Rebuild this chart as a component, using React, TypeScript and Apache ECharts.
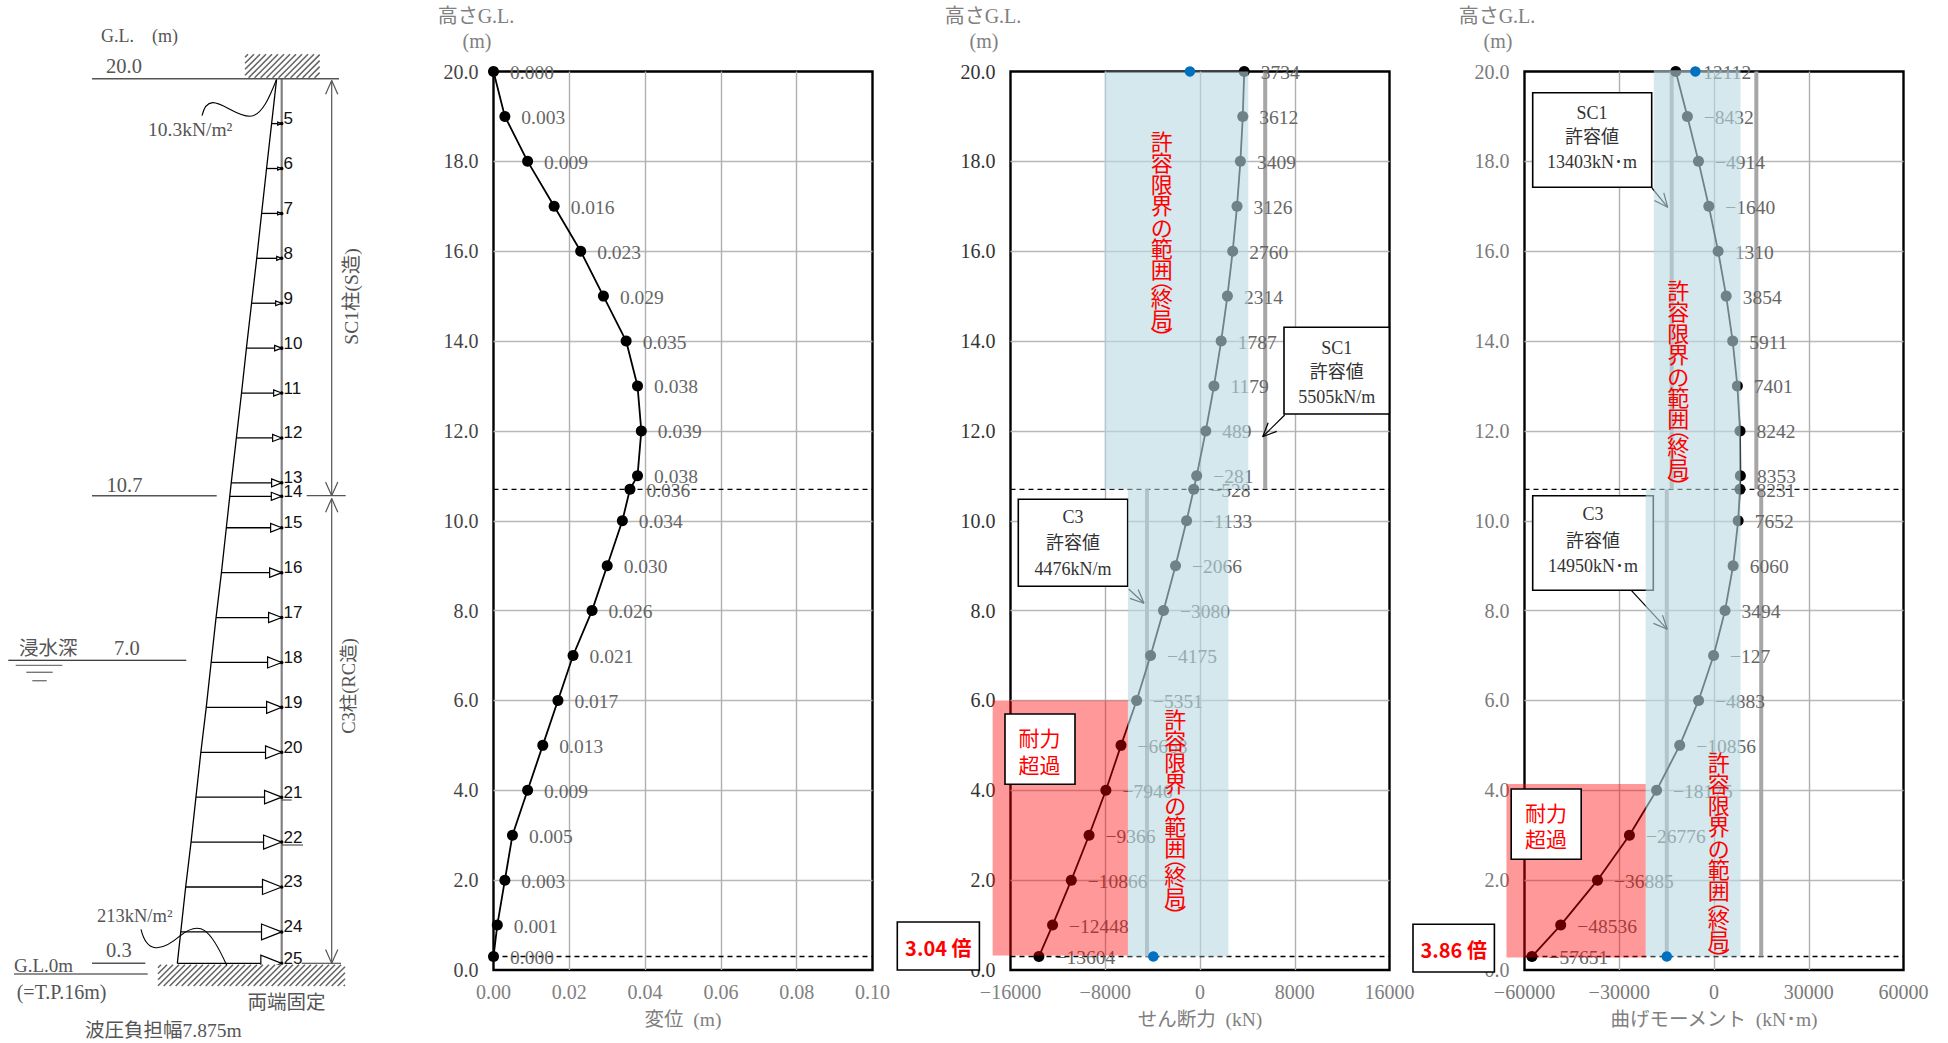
import React, { useEffect, useRef } from "react";
import * as echarts from "echarts";

const SERIF = "'Liberation Serif','Noto Sans CJK JP',serif";
const RED_TEXT = "'Noto Sans CJK JP',sans-serif";

// ---- data ----
const heights = [20, 19, 18, 17, 16, 15, 14, 13, 12, 11, 10.7, 10, 9, 8, 7, 6, 5, 4, 3, 2, 1, 0.3];
const displacement = [0, 0.003, 0.009, 0.016, 0.023, 0.029, 0.035, 0.038, 0.039, 0.038, 0.036, 0.034, 0.03, 0.026, 0.021, 0.017, 0.013, 0.009, 0.005, 0.003, 0.001, 0];
const shear = [3734, 3612, 3409, 3126, 2760, 2314, 1787, 1179, 489, -281, -528, -1133, -2066, -3080, -4175, -5351, -6668, -7946, -9366, -10866, -12448, -13604];
const moment = [-12112, -8432, -4914, -1640, 1310, 3854, 5911, 7401, 8242, 8353, 8231, 7652, 6060, 3494, -127, -4883, -10856, -18175, -26776, -36885, -48536, -57651];

const nodeNumbers = [5, 6, 7, 8, 9, 10, 11, 12, 13, 14, 15, 16, 17, 18, 19, 20, 21, 22, 23, 24, 25];
const nodeHeights = [19, 18, 17, 16, 15, 14, 13, 12, 11, 10.7, 10, 9, 8, 7, 6, 5, 4, 3, 2, 1, 0.3];
const nodePressures = [20.6, 30.9, 41, 51, 61.5, 72, 82, 92.5, 103, 106, 113, 123, 134, 144, 154, 165, 175, 185, 196, 206, 213];

const shearBlueMarks = [[-850, 20], [-3940, 0.3]];
const momentBlueMarks = [[-5900, 20], [-14950, 0.3]];
const shearLimits = [[5505, 20, 10.7], [-4476, 10.7, 0.3]];
const momentLimits = [[-13403, 20, 10.7], [13403, 20, 10.7], [-14950, 10.7, 0.3], [14950, 10.7, 0.3]];
const shearBlue = [[-8055, 4080, 10.7, 20], [-6086, 2400, 0.3, 10.7]];
const shearRed = [[-17506, -6086, 0.32, 6]];
const momentBlue = [[-19063, 8391, 10.7, 20.03], [-21630, 8391, 0.3, 10.7]];
const momentRed = [[-65700, -21630, 0.28, 4.14]];

const minusFmt = (s: string) => s.replace("-", "\u2212");

// ---- panel helpers ----
const PX = { top: 71.5, height: 898.5, width: 379 };
const panels = [
  { left: 493.5, xMin: 0, xMax: 0.1, step: 0.02, name: "変位\u2002(m)", yColor: "#444", xColor: "#808080", decimals: 2 },
  { left: 1010.5, xMin: -16000, xMax: 16000, step: 8000, name: "せん断力\u2002(kN)", yColor: "#333", xColor: "#808080", decimals: 0 },
  { left: 1524.5, xMin: -60000, xMax: 60000, step: 30000, name: "曲げモーメント\u2002(kN･m)", yColor: "#7a7a7a", xColor: "#7a7a7a", decimals: 0 },
];

function rectSeries(g: number, data: number[][], color: string) {
  return {
    type: "custom",
    xAxisIndex: g,
    yAxisIndex: g,
    z: 10,
    silent: true,
    encode: { x: [0, 1], y: [2, 3] },
    data,
    renderItem: (_p: any, api: any) => {
      const a = api.coord([api.value(0), api.value(3)]);
      const b = api.coord([api.value(1), api.value(2)]);
      return { type: "rect", shape: { x: a[0], y: a[1], width: b[0] - a[0], height: b[1] - a[1] }, style: { fill: color } };
    },
  };
}

function profileSeries(g: number, values: number[], labels: string[]) {
  return {
    type: "line",
    xAxisIndex: g,
    yAxisIndex: g,
    z: 4,
    symbol: "circle",
    symbolSize: 11,
    lineStyle: { color: "#000", width: 1.8 },
    itemStyle: { color: "#000" },
    label: {
      show: true,
      position: "right",
      distance: 11,
      offset: [0, 1],
      fontFamily: SERIF,
      fontSize: 19.5,
      color: "#666",
      formatter: (p: any) => labels[p.dataIndex],
    },
    data: values.map((v, i) => [v, heights[i]]),
  };
}

function levelSeries(g: number, xMin: number, xMax: number, level: number, text: string, dy: number) {
  return {
    type: "line",
    xAxisIndex: g,
    yAxisIndex: g,
    z: 3,
    symbol: "none",
    lineStyle: { color: "#000", width: 1.3, type: [5, 4] },
    data: [
      {
        value: [xMin, level],
        label: {
          show: true,
          position: "left",
          distance: 14,
          offset: [0, dy],
          formatter: text,
          fontFamily: SERIF,
          fontSize: 20,
          color: panels[g].yColor,
        },
      },
      { value: [xMax, level] },
    ],
  };
}

function limitSeries(g: number, list: number[][]) {
  return list.map((l) => ({
    type: "line",
    xAxisIndex: g,
    yAxisIndex: g,
    z: 3,
    symbol: "none",
    lineStyle: { color: "#a6a6a6", width: 4 },
    data: [[l[0], l[1]], [l[0], l[2]]],
  }));
}

function blueDots(g: number, data: number[][]) {
  return {
    type: "scatter",
    xAxisIndex: g,
    yAxisIndex: g,
    z: 20,
    symbolSize: 10.5,
    itemStyle: { color: "#0070c0", opacity: 1 },
    data,
  };
}

// ---- drawing helpers ----
function txt(text: string, x: number, y: number, o: any = {}) {
  return {
    type: "text",
    x,
    y,
    z: o.z ?? 30,
    silent: true,
    style: {
      text,
      fill: o.fill ?? "#555",
      font: o.font ?? `18px ${SERIF}`,
      textAlign: o.align ?? "left",
      textVerticalAlign: "middle",
      verticalAlign: "middle",
    },
    rotation: o.rotation ?? 0,
  };
}
function seg(x1: number, y1: number, x2: number, y2: number, stroke = "#555", w = 1.2, z = 30) {
  return { type: "line", z, silent: true, shape: { x1, y1, x2, y2 }, style: { stroke, lineWidth: w } };
}
function box(x1: number, y1: number, x2: number, y2: number, z = 30) {
  return { type: "rect", z, silent: true, shape: { x: x1, y: y1, width: x2 - x1, height: y2 - y1 }, style: { fill: "#fff", stroke: "#000", lineWidth: 1.6 } };
}
function openArrow(x1: number, y1: number, x2: number, y2: number, z = 5, stroke = "#000") {
  const a = Math.atan2(y2 - y1, x2 - x1);
  const L = 15;
  const s = 0.42;
  return [
    seg(x1, y1, x2, y2, stroke, 1.2, z),
    seg(x2, y2, x2 - L * Math.cos(a - s), y2 - L * Math.sin(a - s), stroke, 1.2, z),
    seg(x2, y2, x2 - L * Math.cos(a + s), y2 - L * Math.sin(a + s), stroke, 1.2, z),
  ];
}
function hatch(x1: number, y1: number, x2: number, y2: number) {
  const out: any[] = [{ type: "rect", z: 28, silent: true, shape: { x: x1, y: y1, width: x2 - x1, height: y2 - y1 }, style: { fill: "#fff" } }];
  const h = y2 - y1;
  for (let b = x1 + 3; b < x2 + h; b += 6) {
    let ax = b, ay = y1, cx = b - h, cy = y2;
    if (ax > x2) { ay = y1 + (ax - x2); ax = x2; }
    if (cx < x1) { cy = y2 - (x1 - cx); cx = x1; }
    out.push(seg(ax, ay, cx, cy, "#666", 1.6, 29));
  }
  return out;
}
function vertical(x: number, c0: number) {
  const block = (text: string, y: number) => ({
    type: "text",
    z: 40,
    silent: true,
    x,
    y,
    style: { text, fill: "#ff0000", font: `22px ${RED_TEXT}`, textAlign: "center", lineHeight: 21.4 },
  });
  return [
    block("許\n容\n限\n界\nの\n範\n囲", c0 - 10.7),
    block("︵", c0 + 138 - 10.7),
    block("終\n局", c0 + 157 - 10.7),
    block("︶", c0 + 196 - 10.7),
  ];
}

function buildGraphics() {
  const g: any[] = [];
  const F = (n: number) => `${n}px ${SERIF}`;
  [476, 983, 1497].forEach((cx) => {
    g.push(txt("高さG.L.", cx, 16, { align: "center", fill: "#808080", font: F(20) }));
    g.push(txt("(m)", cx + 1, 41, { align: "center", fill: "#808080", font: F(20) }));
  });

  g.push(txt("G.L.\u3000(m)", 101, 36, { font: F(18) }));
  g.push(txt("20.0", 106, 66, { font: F(20.5) }));
  g.push(seg(92, 78.7, 339, 78.7, "#555", 1.4));
  g.push(txt("10.3kN/m²", 148, 129, { font: F(19.5) }));
  g.push({ type: "bezierCurve", z: 30, silent: true, shape: { x1: 202, y1: 115.7, cpx1: 209, cpy1: 86, cpx2: 230, cpy2: 116, x2: 250, y2: 116.3 }, style: { stroke: "#000", lineWidth: 1.1, fill: "none" } });
  g.push({ type: "bezierCurve", z: 30, silent: true, shape: { x1: 250, y1: 116.3, cpx1: 262, cpy1: 116, cpx2: 270, cpy2: 96, x2: 276.3, y2: 80 }, style: { stroke: "#000", lineWidth: 1.1, fill: "none" } });
  g.push(txt("10.7", 106.5, 485, { font: F(20.5) }));
  g.push(seg(92, 495.7, 216.7, 495.7, "#555", 1.4));
  g.push(seg(306.7, 495.7, 345.7, 495.7, "#555", 1.2));
  g.push(txt("浸水深", 19, 648, { font: F(19.5) }));
  g.push(txt("7.0", 114, 648, { font: F(20.5) }));
  g.push(seg(8.3, 660.3, 186.3, 660.3, "#000", 1.1));
  g.push(seg(15.7, 665.3, 62.3, 665.3, "#777", 1.2));
  g.push(seg(26.3, 672.3, 52.7, 672.3, "#777", 1.4));
  g.push(seg(32.3, 680.7, 46.7, 680.7, "#777", 1.4));
  g.push(txt("213kN/m²", 97, 916, { font: F(18.5) }));
  g.push({ type: "bezierCurve", z: 30, silent: true, shape: { x1: 141, y1: 929.3, cpx1: 146, cpy1: 950, cpx2: 158, cpy2: 955, x2: 180.3, y2: 935.7 }, style: { stroke: "#000", lineWidth: 1.1, fill: "none" } });
  g.push({ type: "bezierCurve", z: 30, silent: true, shape: { x1: 180.3, y1: 935.7, cpx1: 200, cpy1: 920, cpx2: 210, cpy2: 928, x2: 226.7, y2: 965.3 }, style: { stroke: "#000", lineWidth: 1.1, fill: "none" } });
  g.push(txt("0.3", 106, 950, { font: F(20.5) }));
  g.push(seg(92, 963.3, 145.3, 963.3, "#555", 1.4));
  g.push(txt("G.L.0m", 14, 965, { font: F(19) }));
  g.push(seg(14, 974, 147.7, 974, "#222", 1.1));
  g.push(txt("(=T.P.16m)", 16.7, 991.5, { font: F(20) }));
  g.push(txt("両端固定", 247.5, 1002, { font: F(19.5) }));
  g.push(txt("波圧負担幅7.875m", 85, 1030, { font: F(19.5) }));
  g.push(seg(301.7, 963.3, 341, 963.3, "#333", 1.1));
  g.push(seg(281.7, 800, 291.7, 800, "#333", 1), seg(281.7, 845, 303, 845, "#333", 1));
  g.push(...openArrow(331.7, 495.7, 331.7, 80.5, 30, "#555"));
  g.push(...openArrow(331.7, 80.5, 331.7, 495.7, 30, "#555").slice(1));
  g.push(...openArrow(331.7, 963.3, 331.7, 498.5, 30, "#555"));
  g.push(...openArrow(331.7, 498.5, 331.7, 963.3, 30, "#555").slice(1));
  g.push(txt("SC1柱(S造)", 351, 296.5, { align: "center", rotation: Math.PI / 2, font: F(19.5) }));
  g.push(txt("C3柱(RC造)", 349, 686, { align: "center", rotation: Math.PI / 2, font: F(18.5) }));
  g.push(...hatch(245, 54.3, 319.7, 77.7));
  g.push(...hatch(158, 964.7, 345, 986));

  // shear panel callouts
  g.push(box(1284, 327.3, 1389.3, 414));
  [["SC1", 348], ["許容値", 371.7], ["5505kN/m", 396.7]].forEach(([t, y]) =>
    g.push(txt(t as string, 1336.7, y as number, { align: "center", fill: "#333", z: 31 })));
  g.push(...openArrow(1284.7, 415, 1262.7, 436.7, 30));
  g.push(box(1018.3, 499.3, 1127.7, 586.3, 5));
  [["C3", 516.5], ["許容値", 543.3], ["4476kN/m", 569]].forEach(([t, y]) =>
    g.push(txt(t as string, 1073, y as number, { align: "center", fill: "#333", z: 6 })));
  g.push(...openArrow(1128.7, 589, 1144, 603.3, 5));

  // shear panel warnings
  g.push(box(1005, 714, 1075, 784.3));
  g.push(txt("耐力", 1039.5, 737, { align: "center", fill: "#ff0000", font: `21px ${RED_TEXT}`, z: 31 }));
  g.push(txt("超過", 1039.5, 764, { align: "center", fill: "#ff0000", font: `21px ${RED_TEXT}`, z: 31 }));
  g.push(box(897.3, 922, 979.4, 970));
  g.push(txt("3.04 倍", 938.3, 947, { align: "center", fill: "#ff0000", font: `bold 20px ${RED_TEXT}`, z: 31 }));
  g.push(...vertical(1161.7, 140));
  g.push(...vertical(1175.3, 718));

  // moment panel callouts
  g.push(box(1532.7, 92.7, 1651.7, 187.3, 5));
  [["SC1", 112.7], ["許容値", 137.3], ["13403kN･m", 162.3]].forEach(([t, y]) =>
    g.push(txt(t as string, 1592, y as number, { align: "center", fill: "#333", z: 6 })));
  g.push(...openArrow(1652, 188, 1667.7, 207.3, 5));
  g.push(box(1532.7, 495.7, 1653.3, 590.3, 5));
  [["C3", 514.3], ["許容値", 540.7], ["14950kN･m", 565.7]].forEach(([t, y]) =>
    g.push(txt(t as string, 1593, y as number, { align: "center", fill: "#333", z: 6 })));
  g.push(...openArrow(1631.3, 590.3, 1667.3, 629.3, 5));

  // moment panel warnings
  g.push(box(1511.2, 789, 1581.2, 859.3));
  g.push(txt("耐力", 1546, 812, { align: "center", fill: "#ff0000", font: `21px ${RED_TEXT}`, z: 31 }));
  g.push(txt("超過", 1546, 838, { align: "center", fill: "#ff0000", font: `21px ${RED_TEXT}`, z: 31 }));
  g.push(box(1413, 924.3, 1494.4, 972));
  g.push(txt("3.86 倍", 1453.7, 949.5, { align: "center", fill: "#ff0000", font: `bold 20px ${RED_TEXT}`, z: 31 }));
  g.push(...vertical(1678.3, 289));
  g.push(...vertical(1718.7, 761));
  return g;
}

function buildOption() {
  const grids: any[] = panels.map((p) => ({
    left: p.left,
    top: PX.top,
    width: PX.width,
    height: PX.height,
    show: true,
    backgroundColor: "#fff",
    borderColor: "#000",
    borderWidth: 2.4,
    containLabel: false,
  }));
  const xAxes: any[] = panels.map((p, i) => ({
    gridIndex: i,
    type: "value",
    min: p.xMin,
    max: p.xMax,
    interval: p.step,
    position: "bottom",
    name: p.name,
    nameLocation: "middle",
    nameGap: 40,
    nameTextStyle: { fontFamily: SERIF, fontSize: 19.5, color: "#808080" },
    axisLine: { show: false },
    axisTick: { show: false },
    axisLabel: {
      margin: 12,
      fontFamily: SERIF,
      fontSize: 20,
      color: p.xColor,
      showMinLabel: true,
      showMaxLabel: true,
      formatter: (v: number) => minusFmt(v.toFixed(p.decimals)),
    },
    splitLine: { show: true, showMinLine: false, showMaxLine: false, lineStyle: { color: "#b0b0b0", width: 1.4 } },
  }));
  const yAxes: any[] = panels.map((p, i) => ({
    gridIndex: i,
    type: "value",
    min: 0,
    max: 20,
    interval: 2,
    axisLine: { show: false },
    axisTick: { show: false },
    axisLabel: {
      margin: 15,
      fontFamily: SERIF,
      fontSize: 20,
      color: p.yColor,
      showMinLabel: true,
      showMaxLabel: true,
      formatter: (v: number) => v.toFixed(1),
    },
    splitLine: { show: true, showMinLine: false, showMaxLine: false, lineStyle: { color: "#b8b8b8", width: 1.4 } },
  }));

  const D = 3;
  grids.push({ left: 36.7, top: 78.7, width: 245, height: 898.1, show: false });
  xAxes.push({ gridIndex: D, type: "value", min: 0, max: 500, inverse: true, show: false });
  yAxes.push({ gridIndex: D, type: "value", min: 0, max: 20, show: false });

  const dispLabels = displacement.map((v) => v.toFixed(3));
  const shearLabels = shear.map((v) => minusFmt(String(v)));
  const momentLabels = moment.map((v) => minusFmt(String(v)));

  const series: any[] = [
    levelSeries(0, 0, 0.1, 10.7, "10.7", 2),
    levelSeries(0, 0, 0.1, 0.3, "0.3", -10),
    profileSeries(0, displacement, dispLabels),
    levelSeries(1, -16000, 16000, 10.7, "10.7", 2),
    levelSeries(1, -16000, 16000, 0.3, "0.3", -10),
    ...limitSeries(1, shearLimits),
    profileSeries(1, shear, shearLabels),
    rectSeries(1, shearBlue, "rgba(183,217,225,0.6)"),
    rectSeries(1, shearRed, "rgba(255,0,0,0.4)"),
    blueDots(1, shearBlueMarks),
    levelSeries(2, -60000, 60000, 10.7, "10.7", 2),
    levelSeries(2, -60000, 60000, 0.3, "0.3", -10),
    ...limitSeries(2, momentLimits),
    profileSeries(2, moment, momentLabels),
    rectSeries(2, momentBlue, "rgba(183,217,225,0.6)"),
    rectSeries(2, momentRed, "rgba(255,0,0,0.4)"),
    blueDots(2, momentBlueMarks),
    {
      type: "line",
      xAxisIndex: D,
      yAxisIndex: D,
      z: 3,
      symbol: "none",
      lineStyle: { color: "#808080", width: 2.2 },
      data: [[0, 20], [0, 0.3]],
    },
    {
      type: "line",
      xAxisIndex: D,
      yAxisIndex: D,
      z: 4,
      symbol: "none",
      lineStyle: { color: "#000", width: 1.3 },
      data: [[10.3, 20], ...nodePressures.map((p, i) => [p, nodeHeights[i]])],
    },
    {
      type: "custom",
      xAxisIndex: D,
      yAxisIndex: D,
      z: 5,
      silent: true,
      encode: { x: 0, y: 1 },
      data: nodePressures.map((p, i) => [p, nodeHeights[i]]),
      renderItem: (_p: any, api: any) => {
        const from = api.coord([api.value(0), api.value(1)]);
        const to = api.coord([0, api.value(1)]);
        const len = to[0] - from[0];
        const headL = Math.max(4, len * 0.2);
        const headW = Math.max(1.5, len * 0.078);
        return {
          type: "group",
          children: [
            { type: "line", shape: { x1: from[0], y1: from[1], x2: to[0], y2: to[1] }, style: { stroke: "#000", lineWidth: 1.3 } },
            {
              type: "polygon",
              shape: { points: [[to[0], to[1]], [to[0] - headL, to[1] - headW], [to[0] - headL, to[1] + headW]] },
              style: { fill: "#fff", stroke: "#000", lineWidth: 1.2 },
            },
          ],
        };
      },
    },
    {
      type: "line",
      xAxisIndex: D,
      yAxisIndex: D,
      z: 6,
      symbol: "circle",
      symbolSize: 3.5,
      lineStyle: { opacity: 0 },
      itemStyle: { color: "#000" },
      label: {
        show: true,
        position: "right",
        distance: 0,
        offset: [0, -5],
        fontFamily: "'Liberation Sans',sans-serif",
        fontSize: 17,
        color: "#111",
        formatter: (p: any) => String(nodeNumbers[p.dataIndex]),
      },
      data: nodeHeights.map((h) => [0, h]),
    },
  ];

  return {
    animation: false,
    backgroundColor: "#fff",
    tooltip: { show: false },
    legend: { show: false },
    grid: grids,
    xAxis: xAxes,
    yAxis: yAxes,
    series,
    graphic: { elements: buildGraphics() },
  };
}

export default function App() {
  const ref = useRef<HTMLDivElement | null>(null);
  useEffect(() => {
    document.body.style.margin = "0";
    const chart = echarts.init(ref.current!, undefined, { renderer: "svg" });
    chart.setOption(buildOption() as any);
    return () => chart.dispose();
  }, []);
  return <div ref={ref} style={{ position: "absolute", left: 0, top: 0, width: 1948, height: 1043 }} />;
}
